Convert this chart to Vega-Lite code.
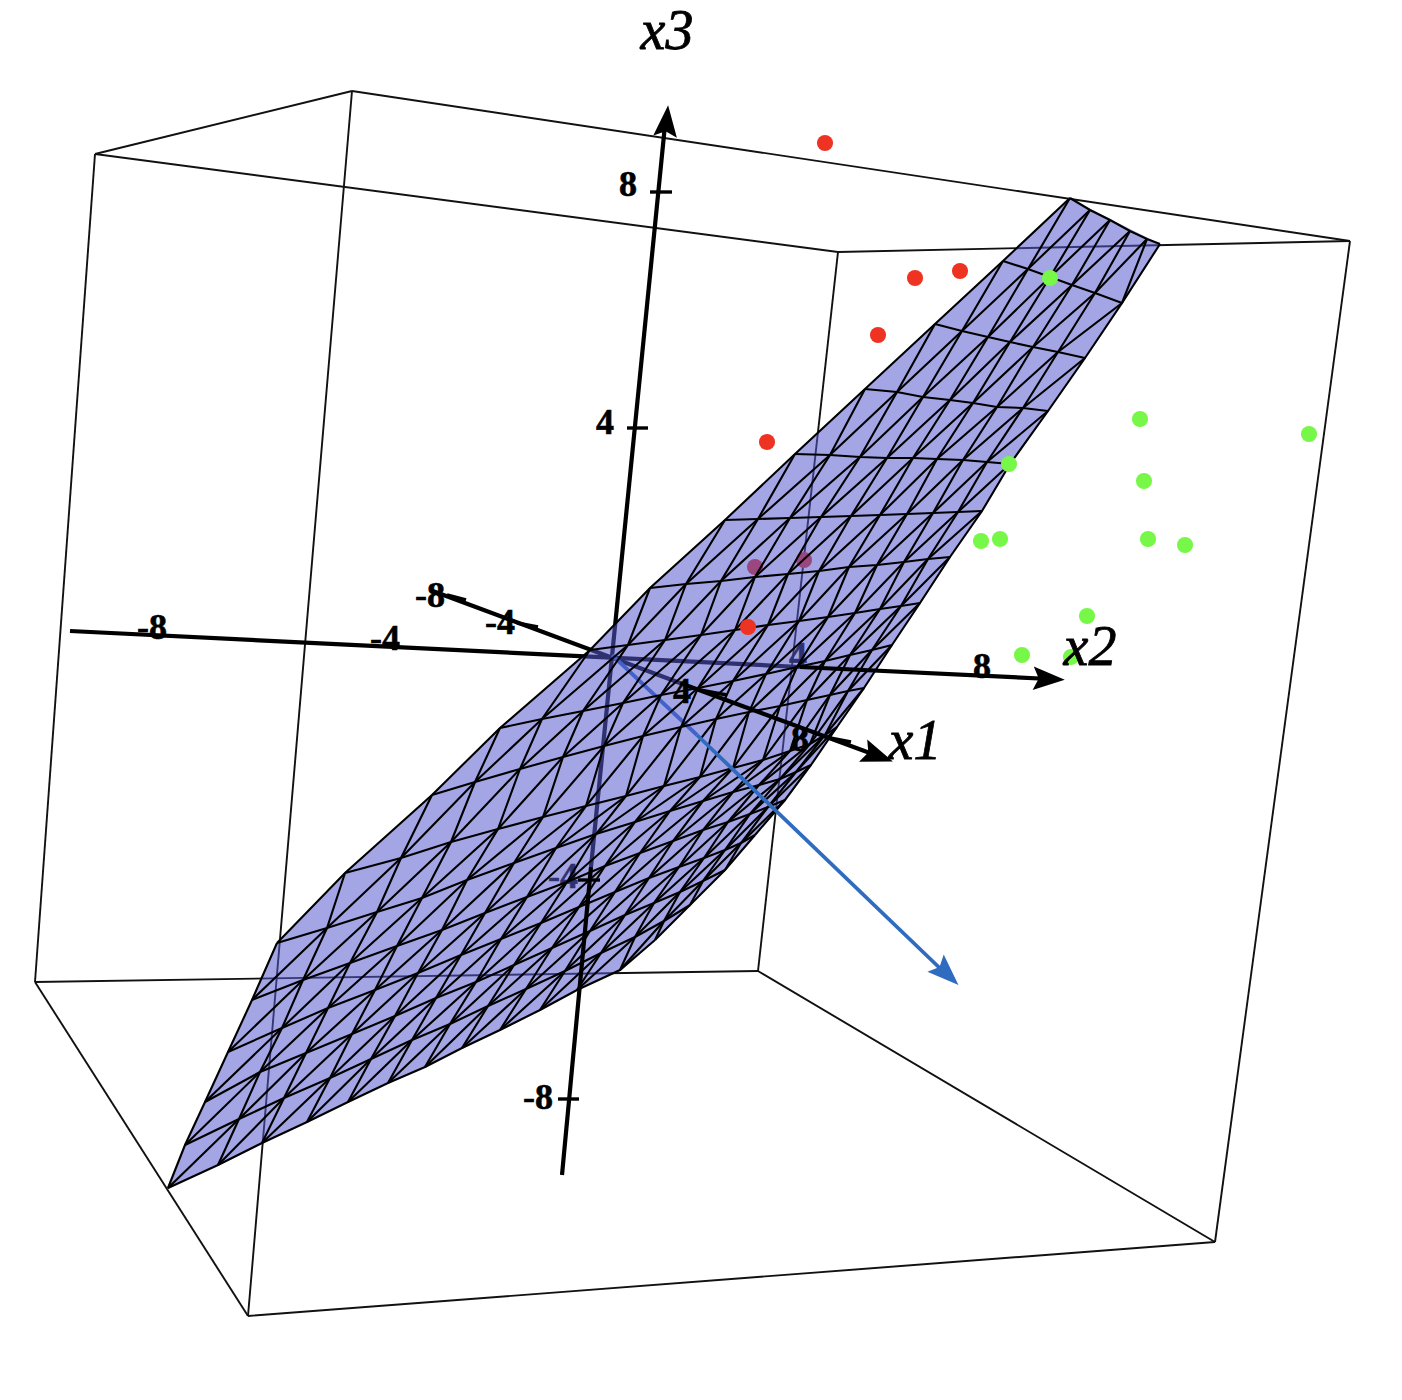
{
"$schema":"https://vega.github.io/schema/vega-lite/v6.json",
"width":1402,"height":1400,"padding":0,"autosize":{"type":"none"},"background":"white",
"view":{"stroke":null},
"datasets":{
"nodes":[
{"k":0,"j":1,"d":1,"x":1070,"y":198},{"k":0,"j":2,"d":2,"x":1090,"y":210},{"k":0,"j":3,"d":3,"x":1110,"y":220},{"k":0,"j":4,"d":4,"x":1130,"y":231},{"k":0,"j":5,"d":5,"x":1147,"y":239},{"k":0,"j":6,"d":6,"x":1160,"y":244},
{"k":1,"j":0,"d":1,"x":1003,"y":261},{"k":1,"j":1,"d":2,"x":1028,"y":269},{"k":1,"j":2,"d":3,"x":1050,"y":277},{"k":1,"j":3,"d":4,"x":1072,"y":285},{"k":1,"j":4,"d":5,"x":1095,"y":293},{"k":1,"j":5,"d":6,"x":1122,"y":303},
{"k":2,"j":-1,"d":1,"x":935,"y":324},{"k":2,"j":0,"d":2,"x":962,"y":331},{"k":2,"j":1,"d":3,"x":988,"y":337},{"k":2,"j":2,"d":4,"x":1010,"y":342},{"k":2,"j":3,"d":5,"x":1033,"y":347},{"k":2,"j":4,"d":6,"x":1058,"y":352},{"k":2,"j":5,"d":7,"x":1085,"y":358},
{"k":3,"j":-2,"d":1,"x":865,"y":389},{"k":3,"j":-1,"d":2,"x":897,"y":392},{"k":3,"j":0,"d":3,"x":923,"y":397},{"k":3,"j":1,"d":4,"x":950,"y":400},{"k":3,"j":2,"d":5,"x":973,"y":403},{"k":3,"j":3,"d":6,"x":997,"y":407},{"k":3,"j":4,"d":7,"x":1023,"y":408},{"k":3,"j":5,"d":8,"x":1048,"y":411},
{"k":4,"j":-3,"d":1,"x":795,"y":454},{"k":4,"j":-2,"d":2,"x":830,"y":455},{"k":4,"j":-1,"d":3,"x":860,"y":457},{"k":4,"j":0,"d":4,"x":887,"y":458},{"k":4,"j":1,"d":5,"x":913,"y":458},{"k":4,"j":2,"d":6,"x":937,"y":459},{"k":4,"j":3,"d":7,"x":963,"y":460},{"k":4,"j":4,"d":8,"x":987,"y":462},{"k":4,"j":5,"d":9,"x":1010,"y":464},
{"k":5,"j":-4,"d":1,"x":725,"y":520},{"k":5,"j":-3,"d":2,"x":758,"y":519},{"k":5,"j":-2,"d":3,"x":790,"y":518},{"k":5,"j":-1,"d":4,"x":821,"y":517},{"k":5,"j":0,"d":5,"x":851,"y":516},{"k":5,"j":1,"d":6,"x":880,"y":515},{"k":5,"j":2,"d":7,"x":907,"y":514},{"k":5,"j":3,"d":8,"x":933,"y":513},{"k":5,"j":4,"d":9,"x":958,"y":512},{"k":5,"j":5,"d":10,"x":982,"y":511},
{"k":6,"j":-5,"d":1,"x":650,"y":588},{"k":6,"j":-4,"d":2,"x":686,"y":584},{"k":6,"j":-3,"d":3,"x":721,"y":581},{"k":6,"j":-2,"d":4,"x":755,"y":577},{"k":6,"j":-1,"d":5,"x":788,"y":574},{"k":6,"j":0,"d":6,"x":819,"y":571},{"k":6,"j":1,"d":7,"x":849,"y":567},{"k":6,"j":2,"d":8,"x":877,"y":565},{"k":6,"j":3,"d":9,"x":904,"y":562},{"k":6,"j":4,"d":10,"x":928,"y":559},{"k":6,"j":5,"d":11,"x":950,"y":557},
{"k":7,"j":-6,"d":1,"x":590,"y":650},{"k":7,"j":-5,"d":2,"x":628,"y":645},{"k":7,"j":-4,"d":3,"x":665,"y":640},{"k":7,"j":-3,"d":4,"x":701,"y":635},{"k":7,"j":-2,"d":5,"x":735,"y":630},{"k":7,"j":-1,"d":6,"x":768,"y":625},{"k":7,"j":0,"d":7,"x":799,"y":621},{"k":7,"j":1,"d":8,"x":828,"y":617},{"k":7,"j":2,"d":9,"x":855,"y":613},{"k":7,"j":3,"d":10,"x":880,"y":609},{"k":7,"j":4,"d":11,"x":901,"y":606},{"k":7,"j":5,"d":12,"x":920,"y":603},
{"k":8,"j":-7,"d":1,"x":500,"y":728},{"k":8,"j":-6,"d":2,"x":542,"y":719},{"k":8,"j":-5,"d":3,"x":583,"y":711},{"k":8,"j":-4,"d":4,"x":623,"y":703},{"k":8,"j":-3,"d":5,"x":661,"y":695},{"k":8,"j":-2,"d":6,"x":698,"y":688},{"k":8,"j":-1,"d":7,"x":733,"y":681},{"k":8,"j":0,"d":8,"x":766,"y":674},{"k":8,"j":1,"d":9,"x":797,"y":667},{"k":8,"j":2,"d":10,"x":825,"y":661},{"k":8,"j":3,"d":11,"x":850,"y":655},{"k":8,"j":4,"d":12,"x":872,"y":650},{"k":8,"j":5,"d":13,"x":892,"y":645},
{"k":9,"j":-8,"d":1,"x":432,"y":795},{"k":9,"j":-7,"d":2,"x":475,"y":782},{"k":9,"j":-6,"d":3,"x":520,"y":769},{"k":9,"j":-5,"d":4,"x":563,"y":757},{"k":9,"j":-4,"d":5,"x":604,"y":746},{"k":9,"j":-3,"d":6,"x":643,"y":736},{"k":9,"j":-2,"d":7,"x":681,"y":727},{"k":9,"j":-1,"d":8,"x":716,"y":719},{"k":9,"j":0,"d":9,"x":749,"y":712},{"k":9,"j":1,"d":10,"x":780,"y":706},{"k":9,"j":2,"d":11,"x":807,"y":700},{"k":9,"j":3,"d":12,"x":830,"y":695},{"k":9,"j":4,"d":13,"x":848,"y":691},{"k":9,"j":5,"d":14,"x":864,"y":688},
{"k":10,"j":-9,"d":1,"x":345,"y":873},{"k":10,"j":-8,"d":2,"x":401,"y":858},{"k":10,"j":-7,"d":3,"x":451,"y":842},{"k":10,"j":-6,"d":4,"x":498,"y":829},{"k":10,"j":-5,"d":5,"x":543,"y":817},{"k":10,"j":-4,"d":6,"x":586,"y":806},{"k":10,"j":-3,"d":7,"x":626,"y":796},{"k":10,"j":-2,"d":8,"x":664,"y":786},{"k":10,"j":-1,"d":9,"x":700,"y":777},{"k":10,"j":0,"d":10,"x":733,"y":768},{"k":10,"j":1,"d":11,"x":763,"y":760},{"k":10,"j":2,"d":12,"x":790,"y":751},{"k":10,"j":3,"d":13,"x":810,"y":744},{"k":10,"j":4,"d":14,"x":825,"y":735},{"k":10,"j":5,"d":15,"x":837,"y":727},
{"k":11,"j":-10,"d":1,"x":277,"y":943},{"k":11,"j":-9,"d":2,"x":327,"y":928},{"k":11,"j":-8,"d":3,"x":377,"y":912},{"k":11,"j":-7,"d":4,"x":422,"y":898},{"k":11,"j":-6,"d":5,"x":467,"y":880},{"k":11,"j":-5,"d":6,"x":514,"y":863},{"k":11,"j":-4,"d":7,"x":556,"y":848},{"k":11,"j":-3,"d":8,"x":596,"y":834},{"k":11,"j":-2,"d":9,"x":635,"y":822},{"k":11,"j":-1,"d":10,"x":670,"y":811},{"k":11,"j":0,"d":11,"x":703,"y":801},{"k":11,"j":1,"d":12,"x":733,"y":792},{"k":11,"j":2,"d":13,"x":759,"y":785},{"k":11,"j":3,"d":14,"x":780,"y":779},{"k":11,"j":4,"d":15,"x":796,"y":772},{"k":11,"j":5,"d":16,"x":811,"y":765},
{"k":12,"j":-10,"d":2,"x":252,"y":1000},{"k":12,"j":-9,"d":3,"x":303,"y":980},{"k":12,"j":-8,"d":4,"x":350,"y":963},{"k":12,"j":-7,"d":5,"x":397,"y":946},{"k":12,"j":-6,"d":6,"x":442,"y":930},{"k":12,"j":-5,"d":7,"x":485,"y":913},{"k":12,"j":-4,"d":8,"x":527,"y":897},{"k":12,"j":-3,"d":9,"x":567,"y":882},{"k":12,"j":-2,"d":10,"x":605,"y":866},{"k":12,"j":-1,"d":11,"x":640,"y":853},{"k":12,"j":0,"d":12,"x":673,"y":841},{"k":12,"j":1,"d":13,"x":703,"y":830},{"k":12,"j":2,"d":14,"x":728,"y":822},{"k":12,"j":3,"d":15,"x":750,"y":814},{"k":12,"j":4,"d":16,"x":768,"y":807},{"k":12,"j":5,"d":17,"x":785,"y":800},
{"k":13,"j":-10,"d":3,"x":228,"y":1052},{"k":13,"j":-9,"d":4,"x":282,"y":1028},{"k":13,"j":-8,"d":5,"x":328,"y":1008},{"k":13,"j":-7,"d":6,"x":375,"y":990},{"k":13,"j":-6,"d":7,"x":418,"y":973},{"k":13,"j":-5,"d":8,"x":461,"y":955},{"k":13,"j":-4,"d":9,"x":501,"y":939},{"k":13,"j":-3,"d":10,"x":541,"y":923},{"k":13,"j":-2,"d":11,"x":579,"y":907},{"k":13,"j":-1,"d":12,"x":615,"y":892},{"k":13,"j":0,"d":13,"x":649,"y":878},{"k":13,"j":1,"d":14,"x":679,"y":867},{"k":13,"j":2,"d":15,"x":704,"y":858},{"k":13,"j":3,"d":16,"x":725,"y":850},{"k":13,"j":4,"d":17,"x":741,"y":843},{"k":13,"j":5,"d":18,"x":755,"y":835},
{"k":14,"j":-10,"d":4,"x":205,"y":1102},{"k":14,"j":-9,"d":5,"x":260,"y":1072},{"k":14,"j":-8,"d":6,"x":306,"y":1053},{"k":14,"j":-7,"d":7,"x":352,"y":1034},{"k":14,"j":-6,"d":8,"x":395,"y":1016},{"k":14,"j":-5,"d":9,"x":436,"y":998},{"k":14,"j":-4,"d":10,"x":476,"y":982},{"k":14,"j":-3,"d":11,"x":514,"y":965},{"k":14,"j":-2,"d":12,"x":552,"y":948},{"k":14,"j":-1,"d":13,"x":590,"y":931},{"k":14,"j":0,"d":14,"x":625,"y":915},{"k":14,"j":1,"d":15,"x":654,"y":903},{"k":14,"j":2,"d":16,"x":680,"y":892},{"k":14,"j":3,"d":17,"x":703,"y":881},{"k":14,"j":4,"d":18,"x":725,"y":870},
{"k":15,"j":-10,"d":5,"x":185,"y":1145},{"k":15,"j":-9,"d":6,"x":239,"y":1119},{"k":15,"j":-8,"d":7,"x":284,"y":1098},{"k":15,"j":-7,"d":8,"x":330,"y":1078},{"k":15,"j":-6,"d":9,"x":371,"y":1059},{"k":15,"j":-5,"d":10,"x":412,"y":1040},{"k":15,"j":-4,"d":11,"x":450,"y":1024},{"k":15,"j":-3,"d":12,"x":488,"y":1006},{"k":15,"j":-2,"d":13,"x":526,"y":989},{"k":15,"j":-1,"d":14,"x":565,"y":971},{"k":15,"j":0,"d":15,"x":601,"y":953},{"k":15,"j":1,"d":16,"x":635,"y":937},{"k":15,"j":2,"d":17,"x":664,"y":921},{"k":15,"j":3,"d":18,"x":690,"y":905},
{"k":16,"j":-10,"d":6,"x":168,"y":1188},{"k":16,"j":-9,"d":7,"x":218,"y":1165},{"k":16,"j":-8,"d":8,"x":262,"y":1143},{"k":16,"j":-7,"d":9,"x":307,"y":1122},{"k":16,"j":-6,"d":10,"x":348,"y":1102},{"k":16,"j":-5,"d":11,"x":388,"y":1083},{"k":16,"j":-4,"d":12,"x":425,"y":1067},{"k":16,"j":-3,"d":13,"x":462,"y":1048},{"k":16,"j":-2,"d":14,"x":500,"y":1030},{"k":16,"j":-1,"d":15,"x":540,"y":1010},{"k":16,"j":0,"d":16,"x":577,"y":990},{"k":16,"j":1,"d":17,"x":620,"y":970},{"k":16,"j":2,"d":18,"x":655,"y":940}
],
"surface":[
{"x":168,"y":1188,"y2":1188},{"x":185,"y":1145,"y2":1180},{"x":205,"y":1102,"y2":1171},{"x":228,"y":1052,"y2":1160},{"x":252,"y":1000,"y2":1148},{"x":277,"y":943,"y2":1136},{"x":307,"y":912,"y2":1122},{"x":345,"y":873,"y2":1103},{"x":388,"y":834,"y2":1083},{"x":432,"y":795,"y2":1063},{"x":462,"y":765,"y2":1048},{"x":500,"y":728,"y2":1030},{"x":540,"y":693,"y2":1010},{"x":577,"y":661,"y2":990},{"x":590,"y":650,"y2":984},{"x":620,"y":619,"y2":970},{"x":655,"y":583,"y2":940},{"x":690,"y":552,"y2":905},{"x":725,"y":520,"y2":870},{"x":755,"y":492,"y2":835},{"x":785,"y":463,"y2":800},{"x":795,"y":454,"y2":786},{"x":811,"y":439,"y2":765},{"x":837,"y":415,"y2":727},{"x":864,"y":390,"y2":688},{"x":892,"y":364,"y2":645},{"x":920,"y":338,"y2":603},{"x":935,"y":324,"y2":580},{"x":950,"y":310,"y2":557},{"x":982,"y":280,"y2":511},{"x":1003,"y":261,"y2":475},{"x":1010,"y":254,"y2":464},{"x":1048,"y":219,"y2":411},{"x":1070,"y":198,"y2":380},{"x":1085,"y":206,"y2":358},{"x":1122,"y":225,"y2":303},{"x":1160,"y":244,"y2":244}
],
"box":[
{"x":95,"y":154,"x2":352,"y2":91},{"x":352,"y":91,"x2":1350,"y2":241},{"x":95,"y":154,"x2":838,"y2":252},{"x":838,"y":252,"x2":1350,"y2":241},
{"x":352,"y":91,"x2":248,"y2":1316},{"x":95,"y":154,"x2":35,"y2":982},{"x":35,"y":982,"x2":248,"y2":1316},{"x":35,"y":982,"x2":758,"y2":971},
{"x":758,"y":971,"x2":838,"y2":252},{"x":758,"y":971,"x2":1215,"y2":1242},{"x":248,"y":1316,"x2":1215,"y2":1242},{"x":1350,"y":241,"x2":1215,"y2":1242}
],
"axes":[
{"part":"back","axis":"x3","x":665,"y":125,"x2":591,"y2":867},{"part":"front","axis":"x3","x":591,"y":867,"x2":562,"y2":1175},
{"part":"back","axis":"x2","x":70,"y":631,"x2":800,"y2":667},{"part":"front","axis":"x2","x":800,"y":667,"x2":1050,"y2":679},
{"part":"back","axis":"x1","x":430,"y":590,"x2":680,"y2":683},{"part":"front","axis":"x1","x":680,"y":683,"x2":878,"y2":756}
],
"blue":[
{"part":"back","x":612,"y":655,"x2":697,"y2":735},{"part":"front","x":697,"y":735,"x2":947,"y2":975}
],
"ticks":[
{"part":"front","x":650,"y":192,"x2":672,"y2":192},{"part":"front","x":627,"y":428,"x2":648,"y2":428},{"part":"front","x":578,"y":880,"x2":600,"y2":880},{"part":"front","x":558,"y":1099,"x2":579,"y2":1099},
{"part":"front","x":447,"y":595,"x2":466,"y2":600},{"part":"front","x":517,"y":623,"x2":538,"y2":627},{"part":"front","x":700,"y":690,"x2":727,"y2":695},{"part":"front","x":825,"y":737,"x2":851,"y2":742}
],
"labels":[
{"part":"front","t":"8","x":628,"y":185},{"part":"front","t":"4","x":605,"y":423},{"part":"back","t":"-4","x":563,"y":877},{"part":"front","t":"-8","x":538,"y":1098},
{"part":"front","t":"-8","x":152,"y":628},{"part":"front","t":"-4","x":385,"y":639},{"part":"back","t":"4","x":798,"y":656},{"part":"front","t":"8","x":982,"y":667},
{"part":"front","t":"-8","x":430,"y":596},{"part":"front","t":"-4","x":500,"y":623},{"part":"front","t":"4","x":682,"y":692},{"part":"front","t":"8","x":800,"y":740}
],
"titles":[{"t":"x3","x":667,"y":32},{"t":"x2","x":1090,"y":648},{"t":"x1","x":915,"y":742}],
"dots":[
{"part":"front","group":"red","x":825,"y":143},{"part":"front","group":"red","x":915,"y":278},{"part":"front","group":"red","x":960,"y":271},{"part":"front","group":"red","x":878,"y":335},{"part":"front","group":"red","x":767,"y":442},{"part":"front","group":"red","x":748,"y":627},{"part":"back","group":"red","x":755,"y":567},{"part":"back","group":"red","x":804,"y":560},
{"part":"front","group":"green","x":1050,"y":278},{"part":"front","group":"green","x":1140,"y":419},{"part":"front","group":"green","x":1309,"y":434},{"part":"front","group":"green","x":1144,"y":481},{"part":"front","group":"green","x":1009,"y":464},{"part":"front","group":"green","x":981,"y":541},{"part":"front","group":"green","x":1000,"y":539},{"part":"front","group":"green","x":1148,"y":539},{"part":"front","group":"green","x":1185,"y":545},{"part":"front","group":"green","x":1087,"y":616},{"part":"front","group":"green","x":1022,"y":655},{"part":"front","group":"green","x":1071,"y":657}
]
},
"encoding":{
"x":{"field":"x","type":"quantitative","scale":{"domain":[0,1402],"nice":false,"zero":false},"axis":null},
"y":{"field":"y","type":"quantitative","scale":{"domain":[1400,0],"nice":false,"zero":false},"axis":null}
},
"layer":[
{"data":{"name":"box"},"mark":{"type":"rule","stroke":"#111111","strokeWidth":1.9},"encoding":{"x2":{"field":"x2"},"y2":{"field":"y2"}}},
{"data":{"name":"dots"},"transform":[{"filter":"datum.part==='back'"}],"mark":{"type":"circle","size":260,"opacity":1},"encoding":{"color":{"field":"group","type":"nominal","scale":{"domain":["red","green"],"range":["#ee3322","#77f747"]},"legend":null}}},
{"data":{"name":"axes"},"transform":[{"filter":"datum.part==='back'"}],"mark":{"type":"rule","stroke":"#000000","strokeWidth":4.2},"encoding":{"x2":{"field":"x2"},"y2":{"field":"y2"},"detail":{"field":"axis"}}},
{"data":{"name":"blue"},"transform":[{"filter":"datum.part==='back'"}],"mark":{"type":"rule","stroke":"#2f6cc0","strokeWidth":3.8},"encoding":{"x2":{"field":"x2"},"y2":{"field":"y2"}}},
{"data":{"name":"labels"},"transform":[{"filter":"datum.part==='back'"}],"mark":{"type":"text","font":"Liberation Serif","fontWeight":"bold","fontSize":36,"align":"center","baseline":"middle","fill":"#000000","stroke":"#000000","strokeWidth":0.6},"encoding":{"text":{"field":"t"}}},
{"data":{"name":"surface"},"mark":{"type":"area","fill":"#5559cf","fillOpacity":0.54,"stroke":null,"interpolate":"linear"},"encoding":{"y2":{"field":"y2"}}},
{"data":{"name":"nodes"},"mark":{"type":"line","stroke":"#000000","strokeWidth":2.1},"encoding":{"detail":{"field":"k"},"order":{"field":"j"}}},
{"data":{"name":"nodes"},"mark":{"type":"line","stroke":"#000000","strokeWidth":2.1},"encoding":{"detail":{"field":"j"},"order":{"field":"k"}}},
{"data":{"name":"nodes"},"mark":{"type":"line","stroke":"#000000","strokeWidth":2.1},"encoding":{"detail":{"field":"d"},"order":{"field":"k"}}},
{"data":{"name":"axes"},"transform":[{"filter":"datum.part==='front'"}],"mark":{"type":"rule","stroke":"#000000","strokeWidth":4.2},"encoding":{"x2":{"field":"x2"},"y2":{"field":"y2"},"detail":{"field":"axis"}}},
{"data":{"name":"blue"},"transform":[{"filter":"datum.part==='front'"}],"mark":{"type":"rule","stroke":"#2f6cc0","strokeWidth":3.8},"encoding":{"x2":{"field":"x2"},"y2":{"field":"y2"}}},
{"data":{"name":"ticks"},"mark":{"type":"rule","stroke":"#000000","strokeWidth":3.4},"encoding":{"x2":{"field":"x2"},"y2":{"field":"y2"}}},
{"data":{"name":"labels"},"transform":[{"filter":"datum.part==='front'"}],"mark":{"type":"text","font":"Liberation Serif","fontWeight":"bold","fontSize":36,"align":"center","baseline":"middle","fill":"#000000","stroke":"#000000","strokeWidth":0.6},"encoding":{"text":{"field":"t"}}},
{"data":{"name":"dots"},"transform":[{"filter":"datum.part==='front'"}],"mark":{"type":"circle","size":260,"opacity":1},"encoding":{"color":{"field":"group","type":"nominal","scale":{"domain":["red","green"],"range":["#ee3322","#77f747"]},"legend":null}}},
{"data":{"values":[{"x":666.6,"y":121}]},"mark":{"type":"point","filled":true,"fill":"#000000","stroke":null,"opacity":1,"size":1000,"angle":5.5,"shape":"M0,-1 L0.75,1 L0,0.65 L-0.75,1 Z"}},
{"data":{"values":[{"x":1049,"y":679}]},"mark":{"type":"point","filled":true,"fill":"#000000","stroke":null,"opacity":1,"size":1000,"angle":92.8,"shape":"M0,-1 L0.75,1 L0,0.65 L-0.75,1 Z"}},
{"data":{"values":[{"x":878,"y":756}]},"mark":{"type":"point","filled":true,"fill":"#000000","stroke":null,"opacity":1,"size":1000,"angle":110,"shape":"M0,-1 L0.75,1 L0,0.65 L-0.75,1 Z"}},
{"data":{"values":[{"x":947,"y":974}]},"mark":{"type":"point","filled":true,"fill":"#2f6cc0","stroke":null,"opacity":1,"size":1000,"angle":133.6,"shape":"M0,-1 L0.75,1 L0,0.65 L-0.75,1 Z"}},
{"data":{"name":"titles"},"mark":{"type":"text","font":"Liberation Serif","fontStyle":"italic","fontSize":56,"align":"center","baseline":"middle","fill":"#000000","stroke":"#000000","strokeWidth":0.8},"encoding":{"text":{"field":"t"}}}
]
}
